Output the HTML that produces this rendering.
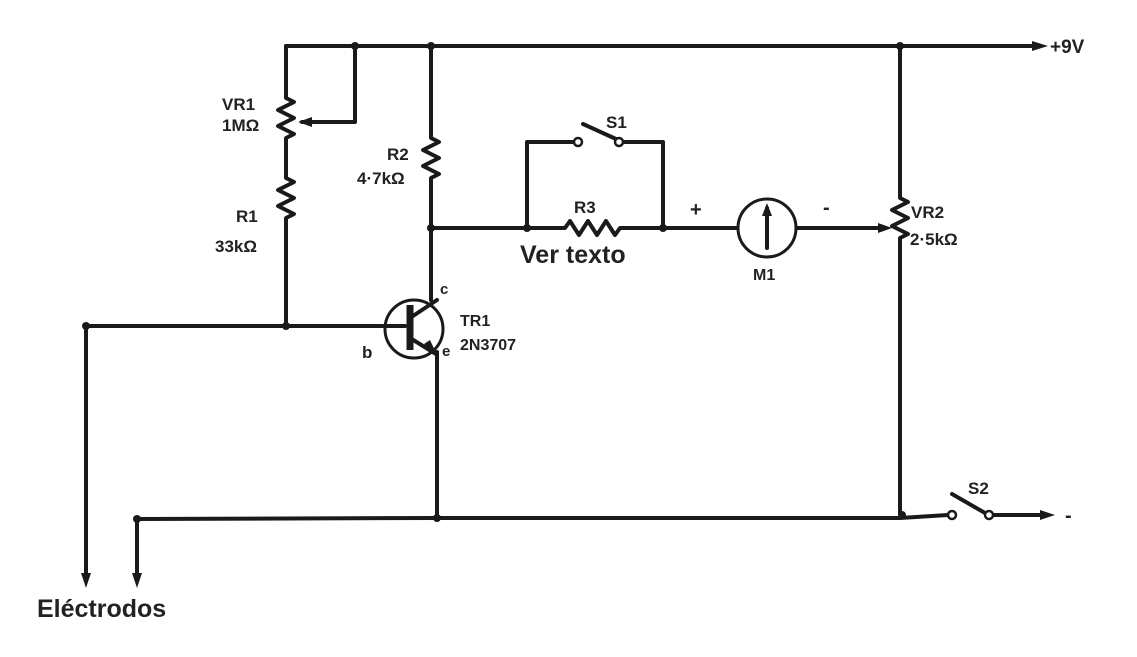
<!DOCTYPE html>
<html><head><style>
html,body{margin:0;padding:0;background:#fff;}
svg{display:block;}
text{font-family:"Liberation Sans",sans-serif;font-weight:bold;fill:#222;}
</style></head><body>
<svg width="1137" height="657" viewBox="0 0 1137 657" xmlns="http://www.w3.org/2000/svg">
<g stroke="#1a1a1a" stroke-width="4" fill="none" stroke-linejoin="round" stroke-linecap="round">
<path d="M286 46 H1035"/>
<path d="M286 46 V98 l8 4 l-16 8 l16 8 l-16 8 l16 8 l-8 4 V178 l8 4 l-16 8 l16 8 l-16 8 l16 8 l-8 4 V326"/>
<path d="M355 46 V122 H302"/>
<path d="M431 46 V138 l8 4 l-16 8 l16 8 l-16 8 l16 8 l-8 4 V300"/>
<path d="M431 228 H565 l5 -7 l9 14 l9 -14 l9 14 l9 -14 l9 14 l5 -7 H737"/>
<path d="M527 228 V142 H574"/>
<path d="M622 142 H663 V228"/>
<path d="M583 124 L616 139"/>
<path d="M797 228 H880"/>
<path d="M900 46 V198 l8 4 l-16 8 l16 8 l-16 8 l16 8 l-8 4 V515"/>
<path d="M86 326 H405"/>
<path d="M86 326 V580"/>
<circle cx="414" cy="329" r="29" stroke-width="3"/>
<path d="M410 305 V350" stroke-width="7" stroke-linecap="butt"/>
<path d="M410 318 L437 300"/>
<path d="M410 338 L436 354"/>
<path d="M437 352 V518"/>
<path d="M137 519 L437 518 H900 L948 515"/>
<path d="M137 519 V580"/>
<path d="M952 494 L985 513"/>
<path d="M993 515 H1045"/>
<circle cx="767" cy="228" r="29" stroke-width="3"/>
<path d="M767 248 V208"/>
</g>
<g fill="#1a1a1a">
<circle cx="355" cy="46" r="4"/><circle cx="431" cy="46" r="4"/><circle cx="900" cy="46" r="4"/>
<circle cx="431" cy="228" r="4"/><circle cx="527" cy="228" r="4"/><circle cx="663" cy="228" r="4"/>
<circle cx="286" cy="326" r="4"/><circle cx="86" cy="326" r="4"/>
<circle cx="437" cy="518" r="4"/><circle cx="137" cy="519" r="4"/><circle cx="902" cy="515" r="4"/>
<polygon points="1048,46 1032,41 1032,51"/>
<polygon points="1055,515 1040,510 1040,520"/>
<polygon points="86,588 81,573 91,573"/>
<polygon points="137,588 132,573 142,573"/>
<polygon points="298,122 312,117 312,127"/>
<polygon points="892,228 878,223 878,233"/>
<polygon points="767,203 762,216 772,216"/>
<polygon points="437,355 424,344 430,340"/>
</g>
<g fill="#fff" stroke="#1a1a1a" stroke-width="2.5">
<circle cx="578" cy="142" r="4"/><circle cx="619" cy="142" r="4"/>
<circle cx="952" cy="515" r="4"/><circle cx="989" cy="515" r="4"/>
</g>
<text x="1050" y="53" font-size="19">+9V</text>
<text x="1065" y="522" font-size="20">-</text>
<text x="222" y="110" font-size="17">VR1</text>
<text x="222" y="131" font-size="17">1MΩ</text>
<text x="236" y="222" font-size="17">R1</text>
<text x="215" y="252" font-size="17">33kΩ</text>
<text x="387" y="160" font-size="17">R2</text>
<text x="357" y="184" font-size="17">4·7kΩ</text>
<text x="606" y="128" font-size="17">S1</text>
<text x="574" y="213" font-size="17">R3</text>
<text x="520" y="263" font-size="25" font-weight="normal">Ver texto</text>
<text x="690" y="216" font-size="20">+</text>
<text x="823" y="214" font-size="20">-</text>
<text x="753" y="280" font-size="16">M1</text>
<text x="911" y="218" font-size="17">VR2</text>
<text x="910" y="245" font-size="17">2·5kΩ</text>
<text x="440" y="294" font-size="15">c</text>
<text x="460" y="326" font-size="16">TR1</text>
<text x="460" y="350" font-size="16">2N3707</text>
<text x="362" y="358" font-size="17">b</text>
<text x="442" y="356" font-size="15">e</text>
<text x="968" y="494" font-size="17">S2</text>
<text x="37" y="617" font-size="25" font-weight="normal">Eléctrodos</text>
</svg>
</body></html>
